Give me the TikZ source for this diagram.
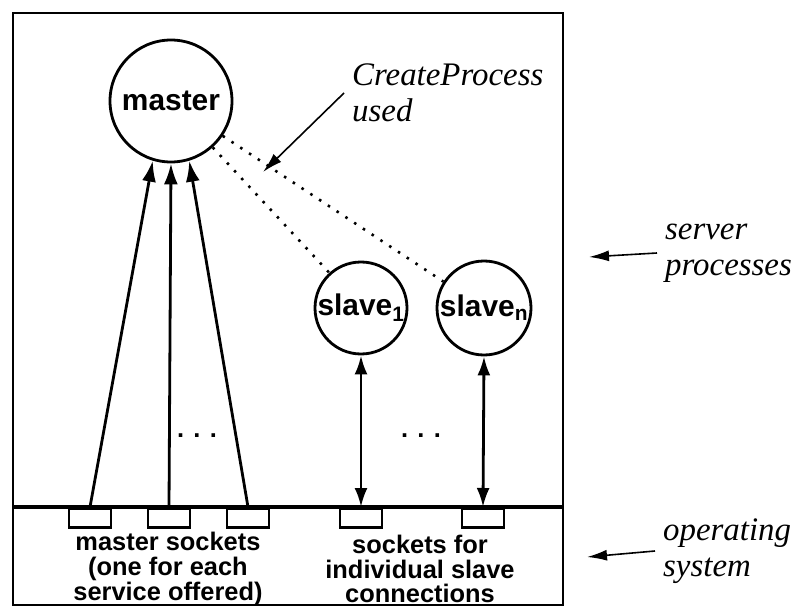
\documentclass[tikz,border=0pt]{standalone}
\usepackage{fontspec}
\setmainfont{Liberation Serif}
\setsansfont{Liberation Sans}
\usetikzlibrary{arrows.meta}

\begin{document}
\begin{tikzpicture}[
    x=1bp, y=-1bp,
    proc/.style={circle, draw, line width=2.8bp, inner sep=0pt,
      font=\sffamily\bfseries\fontsize{30}{30}\selectfont},
    sock/.style={rectangle, draw, line width=2.6bp, anchor=north, inner sep=0pt,
      minimum width=42bp, minimum height=19bp},
    lbl/.style={align=center, font=\sffamily\bfseries\fontsize{25.5}{25}\selectfont},
    note/.style={align=left, anchor=west, inner sep=8bp,
      font=\itshape\fontsize{33}{36}\selectfont},
    link/.style={line width=2.8bp, -{Latex[length=21bp,width=14bp]}},
    both/.style={line width=2.8bp, {Latex[length=19bp,width=13bp]}-{Latex[length=19bp,width=13bp]}},
    spawn/.style={line width=2.6bp, dash pattern=on 2.5bp off 8bp},
    pointer/.style={line width=1.6bp, -{Latex[length=20bp,width=11bp]}}
]
\useasboundingbox (0,0) rectangle (800,608);

\draw[line width=2.8bp] (13,13) rectangle (563,605);
\draw[line width=3.2bp] (13,507) -- (563,507);

\node[proc, minimum size=122bp] (master) at (171,101) {master};
\node[proc, minimum size=92bp] (slave1) at (361,308) {slave\textsubscript{1}};
\node[proc, minimum size=94bp] (slaven) at (484,308) {slave\textsubscript{n}};

\foreach \i/\x/\ang in {1/90/-107, 2/169/-90, 3/248/-73}{
  \node[sock] (msock\i) at (\x,507) {};
  \draw[link] (msock\i.north) -- (master.\ang);
}

\node[sock] (ssock1) at (361,507) {};
\node[sock] (ssockn) at (483,507) {};
\draw[both] (ssock1.north) -- (slave1.south);
\draw[both] (ssockn.north) -- (slaven.south);

\draw[spawn] (master.-48) -- (slave1.132);
\draw[spawn] (master.-34) -- (slaven.147);

\node[lbl] (mdots) at (197,436) {. . .};
\node[lbl] (sdots) at (421,436) {. . .};

\node[lbl] (mlbl) at (168,569) {master sockets\\(one for each\\service offered)};
\node[lbl] (slbl) at (420,569) {sockets for\\individual slave\\connections};

\node[note] (cplbl) at (344,93) {CreateProcess\\used};
\coordinate (cptip) at (263,172);
\draw[pointer] (cplbl.west) -- (cptip);

\node[note] (srvlbl) at (657,253) {server\\processes};
\coordinate (srvtip) at (589,257);
\draw[pointer] (srvlbl.west) -- (srvtip);

\node[note] (oslbl) at (655,551) {operating\\system};
\coordinate (ostip) at (587,557);
\draw[pointer] (oslbl.west) -- (ostip);

\end{tikzpicture}
\end{document}
